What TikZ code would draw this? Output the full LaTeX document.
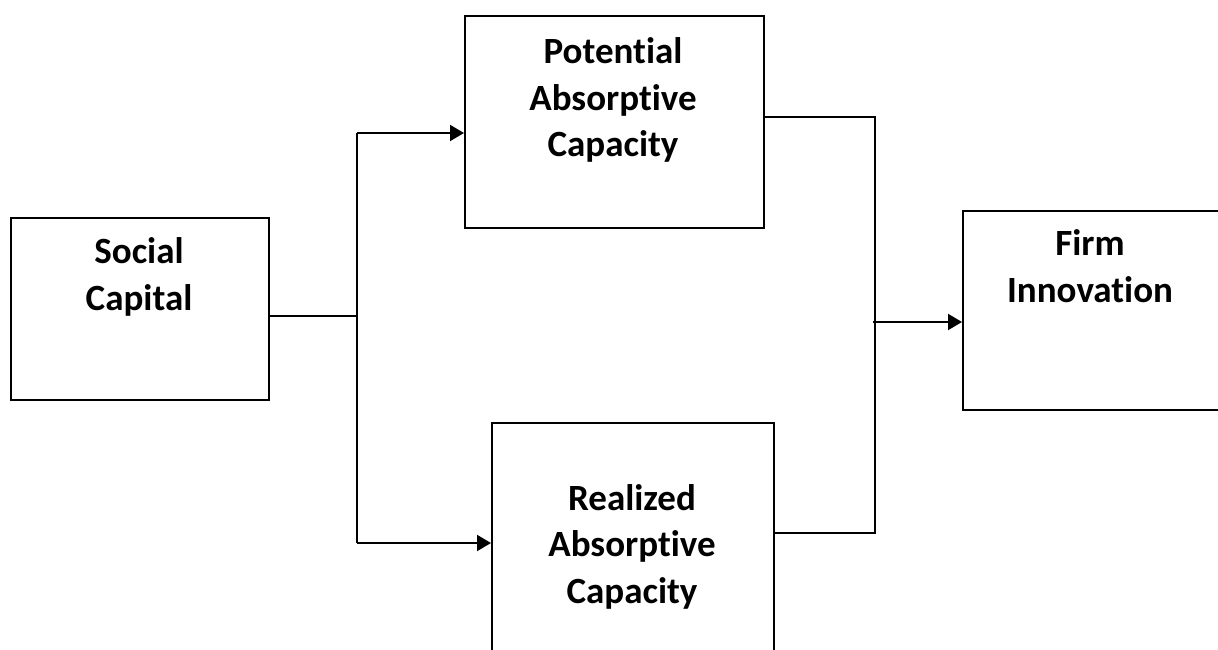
\documentclass[tikz,border=0pt]{standalone}
\usepackage{fontspec}
\setmainfont{Carlito}[Ligatures=NoCommon]
\usetikzlibrary{arrows.meta}
\begin{document}
\begin{tikzpicture}[x=1pt,y=-1pt,
  box/.style={draw,line width=2pt,minimum width=#1,inner sep=0pt,anchor=north west},
  lbl/.style={align=center,font=\fontsize{37}{46.5}\selectfont\bfseries,inner sep=0pt,anchor=base},
  conn/.style={line width=2pt},
  arr/.style={line width=2pt,-{Triangle[length=14pt,width=16pt]}}]
\useasboundingbox[fill=white] (0,0) rectangle (1218,650);
\clip (0,0) rectangle (1218,650);
% boxes
\node[box=258pt,minimum height=182pt] (sc) at (10,217) {};
\node[box=299pt,minimum height=212pt] (pac) at (464,15) {};
\node[box=282pt,minimum height=250pt] (rac) at (491,422) {};
\node[box=262pt,minimum height=199pt] (fi) at (962,210) {};
% labels (anchored at the baseline of the last line)
\node[lbl] (scl) at (139,310) {Social\\Capital};
\node[lbl] (pacl) at (613,157) {Potential\\Absorptive\\Capacity};
\node[lbl] (racl) at (632,603) {Realized\\Absorptive\\Capacity};
\node[lbl] (fil) at (1090,302) {Firm\\Innovation};
% junction coordinates
\coordinate (j1) at (357,316);
\coordinate (j1t) at (357,133);
\coordinate (j1b) at (357,543);
\coordinate (j2t) at (875,117);
\coordinate (j2b) at (875,533);
\coordinate (j2) at (873,322);
% connectors
\draw[conn] (sc.east |- j1) -- (j1);
\draw[conn] (j1t) -- (j1b);
\draw[arr] (j1t) -- (pac.west |- j1t);
\draw[arr] (j1b) -- (rac.west |- j1b);
\draw[conn] (pac.east |- j2t) -- (j2t) -- (j2b) -- (rac.east |- j2b);
\draw[arr] (j2) -- (fi.west |- j2);
\end{tikzpicture}
\end{document}
